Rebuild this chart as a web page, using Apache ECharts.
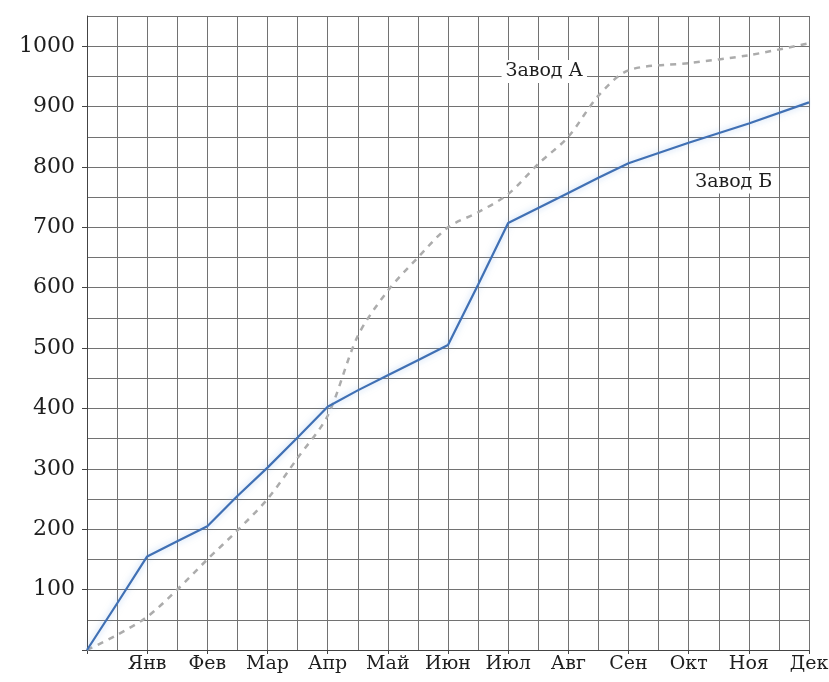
<!DOCTYPE html>
<html>
<head>
<meta charset="utf-8">
<script src="https://cdn.jsdelivr.net/npm/echarts@6/dist/echarts.min.js"></script>
<style>
  html, body { margin: 0; padding: 0; background: #fff; }
  #chart { width: 829px; height: 682px; }
</style>
</head>
<body>
<div id="chart"></div>
<script>
// months on x axis, x value = month index (0 = start of year)
const months = ['Янв', 'Фев', 'Мар', 'Апр', 'Май', 'Июн', 'Июл', 'Авг', 'Сен', 'Окт', 'Ноя', 'Дек']
const xPos = [0, 0.5, 1, 1.5, 2, 2.5, 3, 3.5, 4, 4.5, 5, 5.5, 6, 6.5, 7, 7.5, 8, 8.5, 9, 10, 11, 12]

// cumulative output
const zavodA = [0, 25, 55, 100, 150, 198, 250, 318, 388, 520, 595, 650, 700, 725, 755, 805, 850, 918, 960, 972, 985, 1005]
const zavodB = [0, 77, 155, 180, 205, 255, 302, 352, 403, 430, 455, 480, 505, 605, 707, 732, 757, 782, 806, 840, 872, 907]

const labelA = { name: 'Завод А', x: 7.6, y: 958 }
const labelB = { name: 'Завод Б', x: 10.75, y: 775 }

const font = '"DejaVu Serif", "Liberation Serif", serif'
const gridColor = '#727272'

function pairs(ys) {
  return ys.map((v, i) => [xPos[i], v])
}

const chart = echarts.init(document.getElementById('chart'))

chart.setOption({
  backgroundColor: '#ffffff',
  animation: false,
  grid: { left: 87, right: 20, top: 16, bottom: 32, outerBoundsMode: 'none', containLabel: false },
  xAxis: [
    {
      // half-month grid
      type: 'value', min: 0, max: 12, interval: 0.5,
      axisLine: { show: false },
      axisTick: { show: false },
      axisLabel: { show: false },
      splitLine: { show: true, lineStyle: { color: gridColor, width: 1 } }
    },
    {
      // month labels
      type: 'value', min: 0, max: 12, interval: 1, position: 'bottom',
      axisLine: { show: true, lineStyle: { color: '#444', width: 1 } },
      axisTick: { show: true, length: 4, lineStyle: { color: '#444' } },
      splitLine: { show: false },
      axisLabel: {
        color: '#1e1e1e', fontFamily: font, fontSize: 19, margin: 5,
        formatter: v => (v >= 1 && v <= 12 && v % 1 === 0) ? months[v - 1] : ''
      }
    }
  ],
  yAxis: [
    {
      type: 'value', min: 0, max: 1050, interval: 50,
      axisLine: { show: false },
      axisTick: { show: false },
      axisLabel: { show: false },
      splitLine: { show: true, lineStyle: { color: gridColor, width: 1 } }
    },
    {
      type: 'value', min: 0, max: 1050, interval: 100, position: 'left',
      axisLine: { show: true, lineStyle: { color: '#444', width: 1 } },
      axisTick: { show: true, length: 5, lineStyle: { color: '#444' } },
      splitLine: { show: false },
      axisLabel: {
        color: '#1e1e1e', fontFamily: font, fontSize: 22, margin: 12,
        showMaxLabel: false,
        formatter: v => (v > 0 && v <= 1000) ? String(v) : ''
      }
    }
  ],
  series: [
    {
      name: labelA.name,
      type: 'line',
      data: pairs(zavodA),
      smooth: 0.3,
      symbol: 'none',
      lineStyle: { color: '#acacac', width: 2.5, type: [6, 6] },
      markPoint: {
        symbol: 'rect', symbolSize: 1,
        itemStyle: { color: 'rgba(0,0,0,0)' },
        label: {
          show: true, formatter: labelA.name, color: '#1e1e1e',
          fontFamily: font, fontSize: 19, backgroundColor: '#fff', padding: [2, 4]
        },
        data: [{ coord: [labelA.x, labelA.y] }]
      },
      z: 3
    },
    {
      name: labelB.name,
      type: 'line',
      data: pairs(zavodB),
      symbol: 'none',
      lineStyle: {
        color: '#4070b4', width: 2.2,
        shadowColor: 'rgba(120,170,230,0.55)', shadowBlur: 6
      },
      markPoint: {
        symbol: 'rect', symbolSize: 1,
        itemStyle: { color: 'rgba(0,0,0,0)' },
        label: {
          show: true, formatter: labelB.name, color: '#1e1e1e',
          fontFamily: font, fontSize: 19, backgroundColor: '#fff', padding: [2, 4]
        },
        data: [{ coord: [labelB.x, labelB.y] }]
      },
      z: 4
    }
  ]
})
</script>
</body>
</html>
